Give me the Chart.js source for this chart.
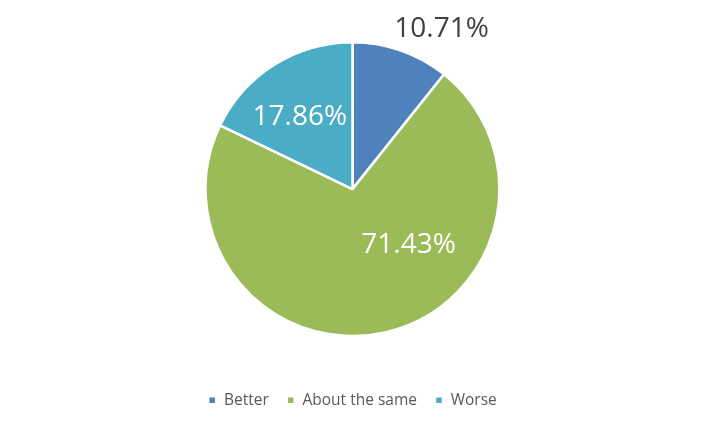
<!DOCTYPE html>
<html><head><meta charset="utf-8">
<script src="https://cdn.jsdelivr.net/npm/chart.js@4/dist/chart.umd.min.js"></script>
<style>html,body{margin:0;padding:0;background:#fff}#wrap{width:707px;height:426px}</style>
</head><body><div id="wrap"><canvas id="c" width="707" height="426"></canvas></div>
<script>
const categories = ["Better", "About the same", "Worse"];
const values = [3, 20, 5];
const percentLabels = ["10.71%", "71.43%", "17.86%"];
const colors = ["#4F81BD", "#9BBB59", "#4BACC6"];

// label placement: angle (deg from top, clockwise) and radius fraction
const labelPlace = [
  {ang: 29, r: 1.25, color: "#404040"},
  {ang: 135, r: 0.54, color: "#ffffff"},
  {ang: -36, r: 0.61, color: "#ffffff"}
];

const labelPlugin = {
  id: "pctLabels",
  afterDatasetsDraw(chart) {
    const ctx = chart.ctx;
    const meta = chart.getDatasetMeta(0);
    ctx.save();
    ctx.font = "28px 'Open Sans', sans-serif";
    ctx.textAlign = "center";
    ctx.textBaseline = "middle";
    meta.data.forEach((arc, i) => {
      const p = labelPlace[i];
      const a = p.ang * Math.PI / 180;
      const x = arc.x + Math.sin(a) * arc.outerRadius * p.r;
      const y = arc.y - Math.cos(a) * arc.outerRadius * p.r;
      ctx.fillStyle = p.color;
      ctx.fillText(percentLabels[i], x, y);
    });
    ctx.restore();
  }
};

new Chart(document.getElementById("c"), {
  type: "pie",
  data: {
    labels: categories,
    datasets: [{
      data: values,
      backgroundColor: colors,
      borderColor: "#ffffff",
      borderWidth: 2.5
    }]
  },
  options: {
    responsive: false,
    animation: false,
    layout: {padding: {left: 0, right: 2, top: 41, bottom: 8}},
    plugins: {
      tooltip: {enabled: false},
      legend: {
        position: "bottom",
        title: {display: true, text: " ", font: {size: 1}, padding: {top: 36, bottom: 0}},
        labels: {
          boxWidth: 8,
          boxHeight: 8,
          padding: 18,
          color: "#595959",
          font: {size: 15.5, family: "'Open Sans', sans-serif"}
        }
      }
    }
  },
  plugins: [labelPlugin]
});
</script></body></html>
